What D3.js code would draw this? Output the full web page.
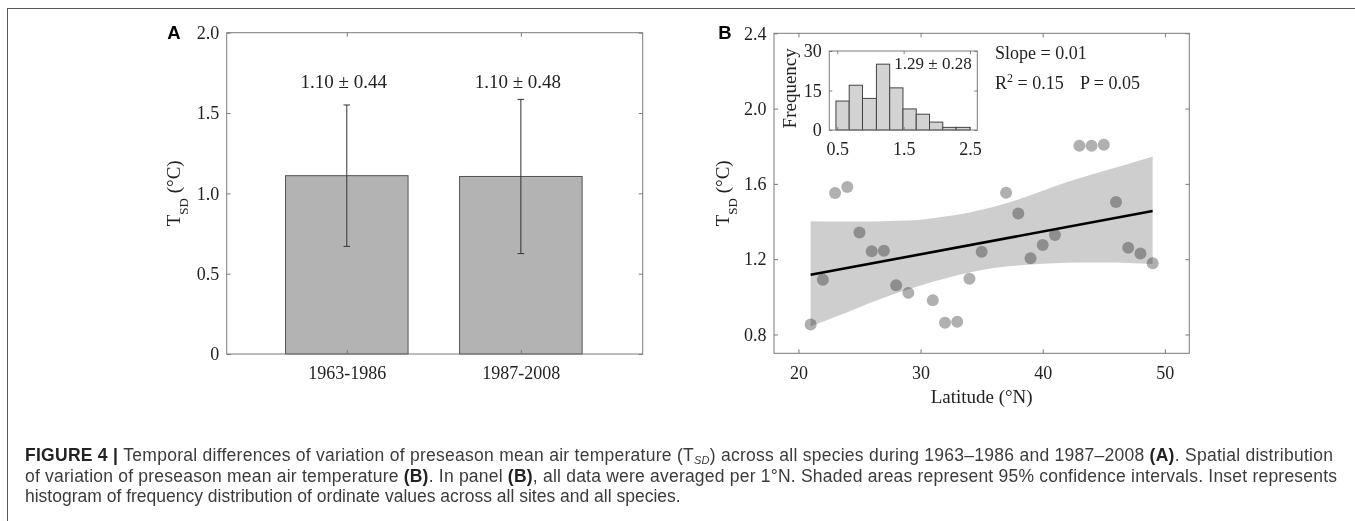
<!DOCTYPE html>
<html>
<head>
<meta charset="utf-8">
<script src="https://cdn.jsdelivr.net/npm/d3@7"></script>
<style>
  body { margin: 0; background: #fff; }
  svg { display: block; }
  .serif { font-family: "Liberation Serif", "Times New Roman", serif; fill: #222; }
  .cap { font-family: "Liberation Sans", Arial, sans-serif; font-size: 17.5px; fill: #3b3b3b; }
  .axis text { font-family: "Liberation Serif", "Times New Roman", serif; font-size: 18px; fill: #222; }
  .axis line { stroke: #7a7a7a; }
  .axis path { display: none; }
</style>
</head>
<body>
<svg id="fig" width="1355" height="521"></svg>
<script>
// ---------------- panel A data ----------------
var periods = ["1963-1986", "1987-2008"];
var periodMean = [1.11, 1.105];
var periodSD = [0.44, 0.48];
var periodLabel = ["1.10 \u00b1 0.44", "1.10 \u00b1 0.48"];
var yTicksA = [0, 0.5, 1.0, 1.5, 2.0];

// ---------------- panel B data ----------------
var lat = [21, 22, 23, 24, 25, 26, 27, 28, 29, 31, 32, 33, 34, 35, 37, 38, 39, 40, 41, 43, 44, 45, 46, 47, 48, 49];
var tsd = [0.853, 1.091, 1.551, 1.583, 1.342, 1.242, 1.245, 1.061, 1.021, 0.982, 0.862, 0.867, 1.096, 1.240,
           1.553, 1.443, 1.205, 1.275, 1.328, 1.803, 1.803, 1.808, 1.504, 1.261, 1.230, 1.179];
var fitLat = [21, 49];
var fitVal = [1.117, 1.456];
var bandLat   = [21, 23, 25, 27, 29, 31, 33, 35, 37, 39, 41, 43, 45, 47, 49];
var bandUpper = [1.402, 1.400, 1.400, 1.402, 1.405, 1.418, 1.436, 1.462, 1.497, 1.540, 1.588, 1.630, 1.668, 1.705, 1.745];
var bandLower = [0.844, 0.893, 0.945, 0.995, 1.040, 1.080, 1.115, 1.143, 1.161, 1.172, 1.179, 1.182, 1.182, 1.180, 1.175];
var xTicksB = [20, 30, 40, 50];
var yTicksB = [0.8, 1.2, 1.6, 2.0, 2.4];

// ---------------- inset histogram ----------------
var histEdges = [0.48, 0.68, 0.88, 1.09, 1.29, 1.49, 1.69, 1.89, 2.09, 2.29, 2.50];
var histCounts = [11, 17, 12, 25, 16, 8, 6, 3, 1, 1];
var xTicksI = [0.5, 1.5, 2.5];
var yTicksI = [0, 15, 30];

var svg = d3.select("#fig");

// outer frame of the figure
svg.append("rect").attr("x", 7.5).attr("y", 8.5).attr("width", 1400).attr("height", 540)
  .attr("fill", "none").attr("stroke", "#555");

// helper: boxed axes with inward ticks on all four sides
function frame(g, x, y, xt, yt, xfmt, yfmt, tick, xpad) {
  var x0 = x.range()[0], x1 = x.range()[1], y0 = y.range()[0], y1 = y.range()[1];
  g.append("g").attr("class", "axis").attr("transform", "translate(0," + y0 + ")")
    .call(d3.axisBottom(x).tickValues(xt).tickSize(-tick).tickSizeOuter(0).tickPadding(xpad).tickFormat(xfmt));
  g.append("g").attr("class", "axis").attr("transform", "translate(0," + y1 + ")")
    .call(d3.axisTop(x).tickValues(xt).tickSize(-tick).tickSizeOuter(0).tickFormat(""));
  g.append("g").attr("class", "axis").attr("transform", "translate(" + x0 + ",0)")
    .call(d3.axisLeft(y).tickValues(yt).tickSize(-tick).tickSizeOuter(0).tickPadding(7.5).tickFormat(yfmt));
  g.append("g").attr("class", "axis").attr("transform", "translate(" + x1 + ",0)")
    .call(d3.axisRight(y).tickValues(yt).tickSize(-tick).tickSizeOuter(0).tickFormat(""));
  g.append("rect").attr("x", x0).attr("y", y1).attr("width", x1 - x0).attr("height", y0 - y1)
    .attr("fill", "none").attr("stroke", "#7a7a7a");
}

function yLabel(g, cx, cy) {
  var t = g.append("text").attr("class", "serif").attr("text-anchor", "middle")
    .attr("transform", "translate(" + cx + "," + cy + ") rotate(-90)").style("font-size", "19px");
  t.append("tspan").text("T");
  t.append("tspan").attr("baseline-shift", "sub").style("font-size", "13px").text("SD");
  t.append("tspan").text(" (\u00b0C)");
}

// ================= panel A =================
var xA = d3.scaleLinear().domain([0.31, 2.70]).range([226.7, 642.7]);
var yA = d3.scaleLinear().domain([0, 2]).range([354, 32.7]);
var gA = svg.append("g");
var barW = 0.704;

gA.selectAll("rect.bar").data(periods).enter().append("rect").attr("class", "bar")
  .attr("x", function(d, i) { return xA(i + 1 - barW / 2); })
  .attr("width", function() { return xA(1 + barW / 2) - xA(1 - barW / 2); })
  .attr("y", function(d, i) { return yA(periodMean[i]); })
  .attr("height", function(d, i) { return yA(0) - yA(periodMean[i]); })
  .attr("fill", "#b3b3b3").attr("stroke", "#555").attr("stroke-width", 1);

periods.forEach(function(p, i) {
  var cx = xA(i + 1), top = yA(periodMean[i] + periodSD[i]), bot = yA(periodMean[i] - periodSD[i]);
  gA.append("line").attr("x1", cx).attr("x2", cx).attr("y1", top).attr("y2", bot).attr("stroke", "#333");
  [top, bot].forEach(function(yy) {
    gA.append("line").attr("x1", cx - 3.3).attr("x2", cx + 3.3).attr("y1", yy).attr("y2", yy).attr("stroke", "#333");
  });
  gA.append("text").attr("class", "serif").attr("text-anchor", "middle")
    .attr("x", cx - 3).attr("y", yA(1.655)).style("font-size", "19px").text(periodLabel[i]);
});

frame(gA, xA, yA, [1, 2], yTicksA,
  function(d) { return periods[d - 1]; },
  function(d) { return d === 0 ? "0" : d3.format(".1f")(d); }, 4, 12.2);
yLabel(gA, 179.5, 193.3);
gA.append("text").attr("x", 167.3).attr("y", 39.3).text("A")
  .style("font-family", "'Liberation Sans', Arial, sans-serif").style("font-weight", "bold").style("font-size", "18.5px");

// ================= panel B =================
var xB = d3.scaleLinear().domain([18, 52]).range([774, 1189.3]);
var yB = d3.scaleLinear().domain([0.7, 2.4]).range([353.3, 33.3]);
var gB = svg.append("g");

var band = d3.area().curve(d3.curveMonotoneX)
  .x(function(d, i) { return xB(bandLat[i]); })
  .y0(function(d, i) { return yB(bandLower[i]); })
  .y1(function(d, i) { return yB(bandUpper[i]); });
gB.append("path").datum(bandLat).attr("d", band).attr("fill", "#cecece");

gB.append("line").attr("x1", xB(fitLat[0])).attr("y1", yB(fitVal[0]))
  .attr("x2", xB(fitLat[1])).attr("y2", yB(fitVal[1]))
  .attr("stroke", "#000").attr("stroke-width", 2.6);

gB.selectAll("circle").data(lat).enter().append("circle")
  .attr("cx", function(d) { return xB(d); })
  .attr("cy", function(d, i) { return yB(tsd[i]); })
  .attr("r", 6).attr("fill", "#b0b0b0").style("mix-blend-mode", "multiply");

frame(gB, xB, yB, xTicksB, yTicksB, d3.format("d"), d3.format(".1f"), 4, 12.9);
yLabel(gB, 729.3, 193.3);
gB.append("text").attr("class", "serif").attr("text-anchor", "middle")
  .attr("x", (xB.range()[0] + xB.range()[1]) / 2).attr("y", 403).style("font-size", "19px").text("Latitude (\u00b0N)");
gB.append("text").attr("x", 718.3).attr("y", 39.3).text("B")
  .style("font-family", "'Liberation Sans', Arial, sans-serif").style("font-weight", "bold").style("font-size", "18.5px");

gB.append("text").attr("class", "serif").attr("x", 995).attr("y", 59.3).style("font-size", "18px").text("Slope = 0.01");
var r2 = gB.append("text").attr("class", "serif").attr("x", 995).attr("y", 89.3).style("font-size", "18px");
r2.append("tspan").text("R");
r2.append("tspan").attr("baseline-shift", "super").style("font-size", "12px").text("2");
r2.append("tspan").text(" = 0.15");
gB.append("text").attr("class", "serif").attr("x", 1080).attr("y", 89.3).style("font-size", "18px").text("P = 0.05");

// ================= inset =================
var xI = d3.scaleLinear().domain([0.38, 2.61]).range([829.3, 977.3]);
var yI = d3.scaleLinear().domain([0, 30]).range([130, 51]);
var gI = svg.append("g");
gI.append("rect").attr("x", 829.3).attr("y", 51).attr("width", 148).attr("height", 79).attr("fill", "#fff");
gI.selectAll("rect.hb").data(histCounts).enter().append("rect").attr("class", "hb")
  .attr("x", function(d, i) { return xI(histEdges[i]); })
  .attr("width", function(d, i) { return xI(histEdges[i + 1]) - xI(histEdges[i]); })
  .attr("y", function(d) { return yI(d); })
  .attr("height", function(d) { return yI(0) - yI(d); })
  .attr("fill", "#d3d3d3").attr("stroke", "#444").attr("stroke-width", 1);
frame(gI, xI, yI, xTicksI, yTicksI, d3.format(".1f"), d3.format("d"), 3, 12.2);
gI.append("text").attr("class", "serif").attr("text-anchor", "end").attr("x", 971.7).attr("y", 69.3)
  .style("font-size", "17px").text("1.29 \u00b1 0.28");
gI.append("text").attr("class", "serif").attr("text-anchor", "middle")
  .attr("transform", "translate(796,88.3) rotate(-90)").style("font-size", "19px").text("Frequency");

// ================= caption =================
var cap = svg.append("g");
var l1 = cap.append("text").attr("class", "cap").attr("x", 25).attr("y", 461)
  .attr("textLength", 1308).attr("lengthAdjust", "spacing");
l1.append("tspan").style("font-weight", "bold").style("fill", "#222").text("FIGURE 4 | ");
l1.append("tspan").text("Temporal differences of variation of preseason mean air temperature (T");
l1.append("tspan").attr("baseline-shift", "-2.5").style("font-size", "11px").style("font-style", "italic").text("SD");
l1.append("tspan").text(") across all species during 1963\u20131986 and 1987\u20132008 ");
l1.append("tspan").style("font-weight", "bold").style("fill", "#222").text("(A)");
l1.append("tspan").text(". Spatial distribution");

var l2 = cap.append("text").attr("class", "cap").attr("x", 25).attr("y", 481.5)
  .attr("textLength", 1312).attr("lengthAdjust", "spacing");
l2.append("tspan").text("of variation of preseason mean air temperature ");
l2.append("tspan").style("font-weight", "bold").style("fill", "#222").text("(B)");
l2.append("tspan").text(". In panel ");
l2.append("tspan").style("font-weight", "bold").style("fill", "#222").text("(B)");
l2.append("tspan").text(", all data were averaged per 1\u00b0N. Shaded areas represent 95% confidence intervals. Inset represents");

cap.append("text").attr("class", "cap").attr("x", 25).attr("y", 502)
  .text("histogram of frequency distribution of ordinate values across all sites and all species.");
</script>
</body>
</html>
